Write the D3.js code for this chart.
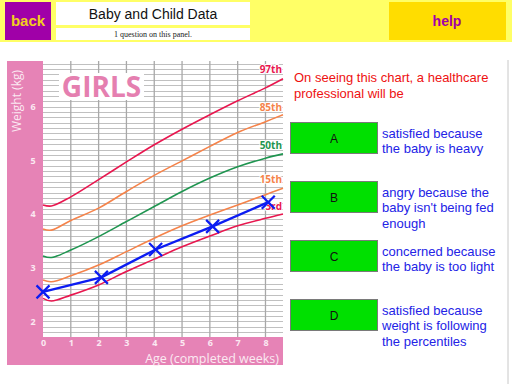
<!DOCTYPE html>
<html><head><meta charset="utf-8">
<script src="https://cdn.jsdelivr.net/npm/d3@7"></script>
<style>
html,body{margin:0;padding:0;background:#fff;}
svg{display:block;font-family:"Liberation Sans",Arial,sans-serif;}
</style></head>
<body>
<svg id="c" width="512" height="384"></svg>
<script>
// ---- data ----
const weeks = [0, 0.3, 1, 2, 3, 4, 5, 6, 7, 8, 8.63];
const p97 = [4.17, 4.15, 4.32, 4.64, 4.97, 5.29, 5.58, 5.85, 6.11, 6.35, 6.52];
const p85 = [3.72, 3.70, 3.88, 4.11, 4.42, 4.72, 4.99, 5.26, 5.52, 5.72, 5.85];
const p50 = [3.22, 3.19, 3.33, 3.58, 3.86, 4.14, 4.42, 4.67, 4.88, 5.04, 5.12];
const p15 = [2.77, 2.74, 2.85, 3.05, 3.30, 3.55, 3.78, 3.98, 4.17, 4.36, 4.48];
const p03 = [2.43, 2.38, 2.49, 2.68, 2.93, 3.16, 3.39, 3.59, 3.78, 3.92, 4.00];
const percentileNames = ["97th", "85th", "50th", "15th", "3rd"];
const percentileLabelY = [6.70, 6.00, 5.29, 4.66, 4.15];
const babyAge = [0, 2.1, 4.05, 6.1, 8.1];
const babyWeight = [2.55, 2.82, 3.34, 3.77, 4.22];
const xTicks = [0, 1, 2, 3, 4, 5, 6, 7, 8];
const yTicks = [2, 3, 4, 5, 6];
const answerLetters = ["A", "B", "C", "D"];
const answerTexts = [
  ["satisfied because", "the baby is heavy"],
  ["angry because the", "baby isn't being fed", "enough"],
  ["concerned because", "the baby is too light"],
  ["satisfied because", "weight is following", "the percentiles"]
];
const questionLines = ["On seeing this chart, a healthcare", "professional will be"];

const svg = d3.select("#c");

// ---- header ----
svg.append("rect").attr("x",0).attr("y",0).attr("width",512).attr("height",42).attr("fill","#ffff66");
svg.append("rect").attr("x",5).attr("y",2).attr("width",46).attr("height",38).attr("fill","#a000a8");
svg.append("text").attr("x",28).attr("y",26).attr("text-anchor","middle").attr("font-size",15).attr("font-weight","bold").attr("fill","#f2cf1e").text("back");
svg.append("rect").attr("x",56).attr("y",2).attr("width",194).attr("height",23).attr("fill","#fff");
svg.append("text").attr("x",153).attr("y",19).attr("text-anchor","middle").attr("font-size",14).attr("fill","#111").text("Baby and Child Data");
svg.append("rect").attr("x",56).attr("y",28).attr("width",194).attr("height",12).attr("fill","#fff");
svg.append("text").attr("x",153).attr("y",37).attr("text-anchor","middle").attr("font-size",8).attr("font-family","'Liberation Serif',serif").attr("fill","#222").text("1 question on this panel.");
svg.append("rect").attr("x",389).attr("y",2).attr("width",117).attr("height",38).attr("fill","#ffdd00");
svg.append("text").attr("x",447).attr("y",26).attr("text-anchor","middle").attr("font-size",14).attr("font-weight","bold").attr("fill","#a000a8").text("help");

// right border line
svg.append("line").attr("x1",508).attr("x2",508).attr("y1",60).attr("y2",384).attr("stroke","#c8c8c8").attr("stroke-width",1);

// ---- chart ----
const L = 43, R = 283, T = 61, B = 337;
const x = d3.scaleLinear().domain([0, 8.63]).range([L, R]);
const y = d3.scaleLinear().domain([1.71, 6.85]).range([B, T]);
const pink = "#e683b6";

svg.append("rect").attr("x",7).attr("y",61).attr("width",R-7).attr("height",304).attr("fill",pink);
svg.append("rect").attr("x",L).attr("y",T).attr("width",R-L).attr("height",B-T).attr("fill","#fff");

const g = svg.append("g");
const hLines = d3.range(18, 69).map(v => v/10);
g.selectAll(".h").data(hLines).join("line")
  .attr("x1",L).attr("x2",R).attr("y1",d=>Math.round(y(d))+0.5).attr("y2",d=>Math.round(y(d))+0.5)
  .attr("stroke","#c0c0c0").attr("stroke-width",1);
g.selectAll(".v").data(xTicks.slice(1)).join("line")
  .attr("x1",d=>x(d)).attr("x2",d=>x(d)).attr("y1",T).attr("y2",B)
  .attr("stroke","#a8a8a8").attr("stroke-width",1.3);

// GIRLS box
svg.append("rect").attr("x",59).attr("y",73).attr("width",85).attr("height",27).attr("fill","#fff");
svg.append("text").attr("x",101.5).attr("y",97).attr("text-anchor","middle").attr("font-size",28).attr("font-weight","bold")
  .attr("font-family","'Open Sans','DejaVu Sans',sans-serif").attr("fill","#e57fb0").text("GIRLS");

const yAxis = d3.axisLeft(y).tickValues(yTicks).tickSize(0).tickPadding(0).tickFormat(d3.format("d"));
const ya = svg.append("g").attr("transform",`translate(33,0)`).call(yAxis);
ya.select(".domain").remove();
ya.selectAll("text").attr("fill","#fbe9f2").attr("font-size",9).attr("font-weight","bold").attr("text-anchor","middle").attr("font-family","'Open Sans',sans-serif");

const xAxis = d3.axisBottom(x).tickValues(xTicks).tickSize(0).tickPadding(0).tickFormat(d3.format("d"));
const xa = svg.append("g").attr("transform",`translate(0,340)`).call(xAxis);
xa.select(".domain").remove();
xa.selectAll("text").attr("fill","#fbe9f2").attr("font-size",9).attr("font-weight","bold").attr("font-family","'Open Sans',sans-serif");

svg.append("text").attr("transform","translate(21,101) rotate(-90)").attr("text-anchor","middle")
  .attr("font-size",12).attr("font-family","'Open Sans',sans-serif").attr("fill","#fbe9f2").text("Weight (kg)");
svg.append("text").attr("x",279).attr("y",363).attr("text-anchor","end")
  .attr("font-size",12.5).attr("font-family","'Open Sans',sans-serif").attr("fill","#fbe9f2").text("Age (completed weeks)");

// percentile curves
const series = [p97, p85, p50, p15, p03];
const colors = ["#e8174f", "#f5834a", "#1f9550", "#f5834a", "#e8174f"];
const line = d3.line().x((d,i)=>x(weeks[i])).y(d=>y(d)).curve(d3.curveCatmullRom.alpha(0.5));
series.forEach((s,k)=>{
  svg.append("path").datum(s).attr("d",line).attr("fill","none").attr("stroke",colors[k]).attr("stroke-width",1.6);
  svg.append("text").attr("x",282).attr("y",y(percentileLabelY[k])+4).attr("text-anchor","end")
    .attr("font-size",10).attr("font-weight","bold").attr("font-family","'Open Sans',sans-serif")
    .attr("fill",colors[k]).attr("stroke","#fff").attr("stroke-width",2).attr("paint-order","stroke").text(percentileNames[k]);
});

// baby weight line
const blue = "#0b1cf2";
const bline = d3.line().x((d,i)=>x(babyAge[i])).y(d=>y(d));
svg.append("path").datum(babyWeight).attr("d",bline).attr("fill","none").attr("stroke",blue).attr("stroke-width",2.4);
const marks = svg.append("g");
babyWeight.forEach((w,i)=>{
  const cx = x(babyAge[i]), cy = y(w), s = 6.5;
  marks.append("path").attr("d",`M${cx-s},${cy-s}L${cx+s},${cy+s}M${cx-s},${cy+s}L${cx+s},${cy-s}`)
    .attr("stroke",blue).attr("stroke-width",2.2).attr("fill","none");
});

// ---- question panel ----
questionLines.forEach((t,i)=>{
  svg.append("text").attr("x",294).attr("y",82+i*16).attr("font-size",13).attr("fill","#ee1111").text(t);
});
const btnY = [122.5, 181.5, 240.5, 299.5];
answerLetters.forEach((l,i)=>{
  svg.append("rect").attr("x",290.5).attr("y",btnY[i]).attr("width",87).attr("height",31)
    .attr("fill","#00e000").attr("stroke","#7a7a7a").attr("stroke-width",1);
  svg.append("text").attr("x",334).attr("y",btnY[i]+20).attr("text-anchor","middle").attr("font-size",12).attr("fill","#111").text(l);
  answerTexts[i].forEach((t,j)=>{
    svg.append("text").attr("x",382).attr("y",btnY[i]+15+j*15.7).attr("font-size",13).attr("fill","#2323e6").text(t);
  });
});
</script>
</body></html>
